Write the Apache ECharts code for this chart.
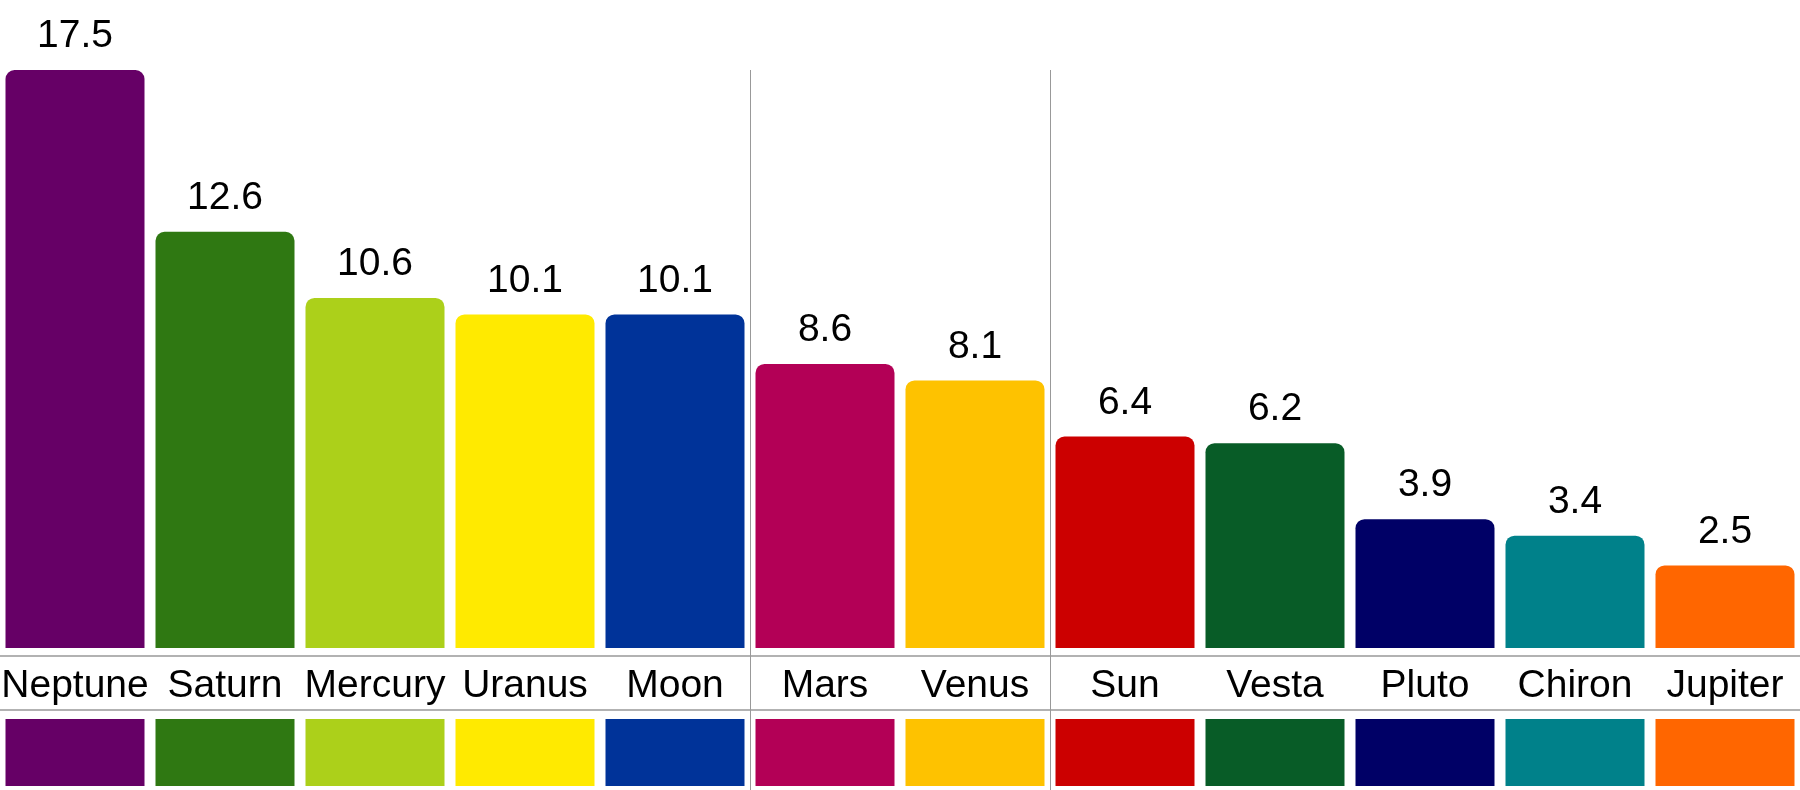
<!DOCTYPE html>
<html><head><meta charset="utf-8">
<script src="https://cdn.jsdelivr.net/npm/echarts@6/dist/echarts.min.js"></script>
<style>html,body{margin:0;padding:0;background:#fff}#c{width:1800px;height:790px}</style>
</head><body><div id="c"></div>
<script>
const categories = ['Neptune','Saturn','Mercury','Uranus','Moon','Mars','Venus','Sun','Vesta','Pluto','Chiron','Jupiter'];
const values = [17.5, 12.6, 10.6, 10.1, 10.1, 8.6, 8.1, 6.4, 6.2, 3.9, 3.4, 2.5];
const colors = ['#660066','#2f7812','#acd01a','#ffea00','#003399','#b30056','#fec200','#cc0000','#085c27','#000066','#00818a','#ff6600'];
const groupBreaks = [5, 7]; // separators after these category counts
const swatch = categories.map(() => 1);

const FONT = '"Liberation Sans", Arial, sans-serif';
const chart = echarts.init(document.getElementById('c'));
const maxV = Math.max(...values);
chart.setOption({
  animation: false,
  grid: [
    {left: 0, right: 0, top: 70, bottom: 142, containLabel: false, outerBoundsMode: 'none'},
    {left: 0, right: 0, top: 719, height: 67, containLabel: false, outerBoundsMode: 'none'}
  ],
  xAxis: [
    {type: 'category', gridIndex: 0, data: categories,
     axisLine: {show: false}, axisTick: {show: false},
     axisLabel: {fontSize: 39, color: '#000', fontFamily: FONT, margin: 18, interval: 0, lineHeight: 40}},
    {type: 'category', gridIndex: 1, data: categories, show: false}
  ],
  yAxis: [
    {type: 'value', gridIndex: 0, min: 0, max: maxV, show: false, splitLine: {show: false}},
    {type: 'value', gridIndex: 1, min: 0, max: 1, show: false, splitLine: {show: false}}
  ],
  series: [
    {type: 'bar', xAxisIndex: 0, yAxisIndex: 0, barWidth: 139,
     data: values.map((v, i) => ({value: v, itemStyle: {color: colors[i]}})),
     itemStyle: {borderRadius: [9, 9, 0, 0]},
     label: {show: true, position: 'top', distance: 14, fontSize: 39, color: '#000', fontFamily: FONT,
       formatter: p => p.value.toFixed(1)}},
    {type: 'bar', xAxisIndex: 1, yAxisIndex: 1, barWidth: 139,
     data: swatch.map((v, i) => ({value: v, itemStyle: {color: colors[i]}}))}
  ]
});

function drawDecor() {
  const topY = chart.convertToPixel({yAxisIndex: 0}, maxV);
  const g = [];
  const W = 1800;
  [656, 710].forEach(y => g.push({type: 'line', shape: {x1: 0, y1: y, x2: W, y2: y}, style: {stroke: '#999', lineWidth: 1.5}, z: 10}));
  groupBreaks.forEach(n => {
    const a = chart.convertToPixel({xAxisIndex: 0}, categories[n - 1]);
    const b = chart.convertToPixel({xAxisIndex: 0}, categories[n]);
    const x = Math.round((a + b) / 2) + 0.5;
    g.push({type: 'line', shape: {x1: x, y1: topY, x2: x, y2: 790}, style: {stroke: '#999', lineWidth: 1}, z: 10});
  });
  chart.setOption({graphic: g});
}
drawDecor();
</script></body></html>
